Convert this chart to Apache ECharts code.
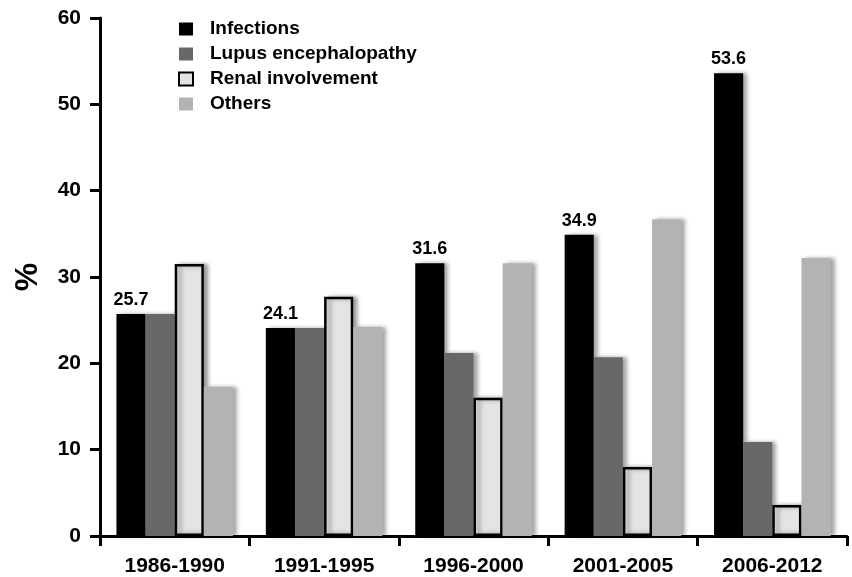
<!DOCTYPE html>
<html>
<head>
<meta charset="utf-8">
<script src="https://cdn.jsdelivr.net/npm/echarts@6/dist/echarts.min.js"></script>
<style>
  html, body { margin: 0; padding: 0; background: #fff; }
  #chart { width: 852px; height: 577px; }
</style>
</head>
<body>
<div id="chart"></div>
<script>
// periods on the x axis
const periods = ['1986-1990', '1991-1995', '1996-2000', '2001-2005', '2006-2012']
// cause of death, % per period
const infections = [25.7, 24.1, 31.6, 34.9, 53.6]
const lupusEnceph = [25.7, 24.1, 21.2, 20.7, 10.9]
const renal = [31.5, 27.7, 16.0, 8.0, 3.6]
const others = [17.3, 24.2, 31.6, 36.7, 32.2]
const yTicks = [0, 10, 20, 30, 40, 50, 60]

const font = 'Arial, "Liberation Sans", sans-serif'
const shadow = {
  shadowColor: 'rgba(0,0,0,0.35)',
  shadowBlur: 4,
  shadowOffsetX: 4,
  shadowOffsetY: 0
}

let myChart = echarts.init(document.getElementById('chart'))
let option = {
  animation: false,
  textStyle: { fontFamily: font },
  grid: { left: 100, right: 5, top: 18, bottom: 40 },
  legend: {
    orient: 'vertical',
    left: 173,
    top: 14,
    itemWidth: 14,
    itemHeight: 13,
    itemGap: 5,
    icon: 'rect',
    textStyle: {
      fontFamily: font, fontSize: 19, fontWeight: 'bold', color: '#000',
      lineHeight: 20, padding: [0, 0, 0, 12]
    },
    data: [
      { name: 'Infections' },
      { name: 'Lupus encephalopathy' },
      { name: 'Renal involvement', itemStyle: { borderColor: '#000', borderWidth: 2 } },
      { name: 'Others' }
    ]
  },
  xAxis: {
    type: 'category',
    data: periods,
    axisLine: { lineStyle: { color: '#000', width: 3 } },
    axisTick: { show: true, length: 10, lineStyle: { color: '#000', width: 3 } },
    axisLabel: { fontSize: 21, fontWeight: 'bold', color: '#000', margin: 20 }
  },
  yAxis: {
    type: 'value',
    min: yTicks[0],
    max: yTicks[yTicks.length - 1],
    interval: 10,
    name: '%',
    nameLocation: 'middle',
    nameRotate: 90,
    nameGap: 56,
    nameTextStyle: { fontSize: 32, fontWeight: 'bold', color: '#000' },
    axisLine: { show: true, lineStyle: { color: '#000', width: 3 } },
    axisTick: { show: true, length: 10, lineStyle: { color: '#000', width: 3 } },
    axisLabel: { fontSize: 21, fontWeight: 'bold', color: '#000', margin: 19 },
    splitLine: { show: false }
  },
  series: [
    {
      name: 'Infections',
      type: 'bar',
      barGap: '0%',
      barCategoryGap: '22%',
      itemStyle: Object.assign({ color: '#000' }, shadow),
      label: { show: true, position: 'top', fontSize: 18, fontWeight: 'bold', color: '#000', distance: 5 },
      data: infections
    },
    {
      name: 'Lupus encephalopathy',
      type: 'bar',
      itemStyle: Object.assign({ color: '#686868' }, shadow),
      data: lupusEnceph
    },
    {
      name: 'Renal involvement',
      type: 'bar',
      itemStyle: Object.assign({ color: '#e4e4e4', borderColor: '#000', borderWidth: 2.5 }, shadow),
      data: renal
    },
    {
      name: 'Others',
      type: 'bar',
      itemStyle: Object.assign({ color: '#b3b3b3' }, shadow),
      data: others
    }
  ]
}
myChart.setOption(option)
</script>
</body>
</html>
